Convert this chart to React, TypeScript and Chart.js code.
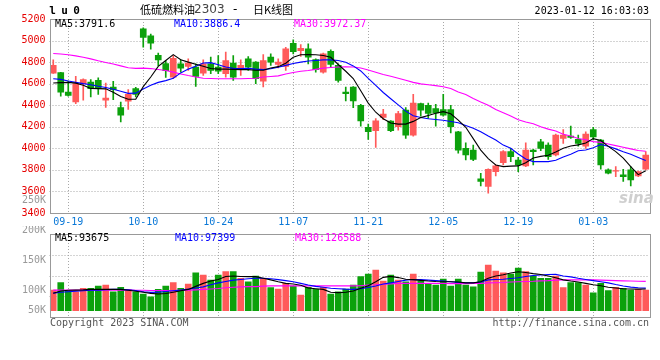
import React, { useEffect, useRef } from "react";
import { Chart, registerables } from "chart.js";
Chart.register(...registerables);

const dates = [
  "09-15","09-16","09-19","09-20","09-21","09-22","09-23","09-26","09-27","09-28","09-29","09-30",
  "10-10","10-11","10-12","10-13","10-14","10-17","10-18","10-19","10-20","10-21","10-24","10-25","10-26","10-27","10-28","10-31",
  "11-01","11-02","11-03","11-04","11-07","11-08","11-09","11-10","11-11","11-14","11-15","11-16","11-17","11-18","11-21","11-22","11-23","11-24","11-25","11-28","11-29","11-30",
  "12-01","12-02","12-05","12-06","12-07","12-08","12-09","12-12","12-13","12-14","12-15","12-16","12-19","12-20","12-21","12-22","12-23","12-26","12-27","12-28","12-29","12-30",
  "01-03","01-04","01-05","01-06","01-09","01-10","01-11","01-12"
];
const tickDates = ["09-19","10-10","10-24","11-07","11-21","12-05","12-19","01-03"];

const opens = [4698,4702,4522,4430,4600,4615,4630,4446,4569,4378,4437,4554,5108,5043,4864,4787,4661,4785,4760,4753,4698,4784,4754,4692,4790,4738,4830,4800,4624,4846,4778,4760,4975,4907,4923,4824,4707,4901,4769,4523,4569,4400,4194,4163,4286,4252,4200,4354,4123,4415,4400,4369,4360,4360,4154,3999,3984,3717,3646,3784,3867,3969,3892,3837,3984,4061,4030,3938,4092,4114,4083,4021,4175,4077,3800,3787,3753,3800,3744,3806];
const closes = [4769,4522,4492,4600,4637,4554,4556,4467,4545,4307,4501,4501,5030,4975,4821,4720,4836,4744,4791,4667,4785,4723,4717,4815,4661,4769,4754,4646,4815,4800,4800,4923,4898,4929,4846,4729,4877,4778,4630,4507,4440,4255,4154,4255,4317,4163,4323,4123,4421,4354,4323,4329,4307,4200,3984,3938,3898,3692,3806,3837,3969,3923,3846,3984,3969,4000,3923,4123,4123,4101,4046,4132,4107,3846,3769,3794,3738,3707,3784,3938];
const highs = [4822,4705,4624,4667,4645,4637,4655,4606,4621,4430,4545,4566,5117,5060,4883,4812,4861,4822,4831,4785,4822,4846,4861,4892,4861,4821,4852,4805,4870,4877,4830,4938,5006,4963,4969,4830,4883,4913,4784,4569,4572,4409,4224,4277,4363,4258,4344,4378,4501,4421,4421,4409,4501,4400,4157,4052,4030,3769,3810,3846,3978,3999,3917,4052,3990,4083,4052,4132,4175,4206,4123,4154,4194,4083,3810,3830,3806,3830,3790,3969];
const lows = [4695,4483,4483,4415,4446,4476,4501,4379,4452,4246,4360,4476,4938,4920,4766,4658,4646,4707,4723,4575,4677,4692,4692,4661,4630,4677,4723,4600,4569,4769,4747,4723,4877,4852,4784,4707,4698,4754,4615,4440,4378,4206,4083,4009,4267,4154,4169,4092,4114,4298,4277,4206,4298,4144,3954,3892,3886,3652,3584,3744,3846,3877,3784,3830,3846,3978,3898,3929,4046,4092,4021,4000,4077,3806,3763,3738,3692,3652,3738,3800];

const ma5 = [4606,4610,4612,4605,4585,4556,4554,4552,4520,4480,4455,4455,4572,4662,4760,4815,4870,4822,4800,4780,4762,4740,4735,4735,4733,4730,4730,4725,4725,4745,4758,4790,4845,4868,4870,4868,4862,4845,4778,4715,4648,4535,4420,4335,4275,4235,4225,4225,4250,4285,4305,4325,4340,4320,4262,4195,4090,3984,3905,3846,3830,3835,3837,3867,3910,3925,3935,3965,4000,4022,4032,4050,4090,4072,4018,3970,3910,3830,3756,3791.6];
const ma10 = [4646,4640,4625,4612,4600,4590,4576,4565,4548,4530,4510,4512,4550,4585,4612,4628,4650,4700,4735,4762,4792,4795,4775,4755,4742,4740,4742,4735,4730,4738,4752,4770,4787,4800,4810,4815,4821,4821,4815,4798,4765,4718,4650,4585,4518,4460,4403,4345,4303,4286,4274,4267,4261,4249,4237,4212,4187,4154,4114,4077,4030,4000,3947,3901,3877,3877,3877,3890,3920,3945,3978,3985,4005,4035,4020,3995,3968,3945,3915,3886.4];
const ma30 = [4880,4875,4868,4858,4845,4830,4812,4797,4782,4765,4748,4742,4744,4740,4732,4722,4707,4690,4675,4662,4650,4648,4646,4646,4646,4646,4648,4650,4662,4667,4672,4690,4703,4715,4722,4733,4744,4750,4755,4756,4755,4746,4727,4706,4685,4668,4650,4632,4612,4598,4590,4582,4572,4555,4523,4500,4463,4430,4400,4360,4330,4300,4265,4245,4228,4200,4178,4160,4130,4115,4092,4080,4062,4055,4040,4025,4010,3995,3980,3972.37];

const volumes = [89400,120900,86400,82000,96700,96700,106600,111000,82000,101000,92400,82000,72100,60400,92400,106600,120900,96700,115300,164000,154000,132600,154000,168400,168400,140000,125200,149800,140000,99300,93700,118300,106600,67800,101000,92400,101000,72100,82000,93700,111000,146800,158500,175700,128200,154000,132600,125200,158500,129500,118300,111000,136900,106600,136900,111000,103600,167100,197300,171400,164000,158500,184400,168400,149800,140000,140000,149800,99300,120900,120900,111000,77700,118300,86400,101000,96700,89400,92400,89400];
const vma5 = [75000,85000,88000,89000,90000,92000,92000,92000,92000,92000,88000,84000,80000,75000,72000,74000,80000,86000,92000,105000,118000,128000,135000,148000,150000,148000,147000,147000,140000,133000,125000,118000,115000,110000,98000,95000,92000,80000,78000,80000,85000,97000,108000,125000,144000,148000,143000,136000,134000,131000,128000,126000,125000,125000,124000,120000,120000,125000,140000,150000,155000,163000,168000,165000,160000,156000,150000,142000,133000,128000,124000,118000,112000,108000,101000,98000,95000,94000,93000,93675];
const vma10 = [76000,80000,82000,84000,86000,88000,89000,91000,92000,92000,90000,87000,82000,79000,80000,83000,86000,89000,93000,98000,103000,112000,120000,126000,132000,135000,138000,140000,140000,138000,134000,130000,125000,118000,111000,105000,101000,97000,95000,93000,92000,95000,100000,107000,115000,120000,126000,132000,135000,134000,132000,130000,128000,125000,122000,121000,121000,124000,133000,135000,136000,139000,142000,148000,152000,154000,156000,157000,150000,146000,140000,135000,130000,125000,120000,113000,107000,102000,99000,97399];
const vma30 = [89000,89000,89000,89000,89000,89000,89000,89000,89000,89000,89000,88000,88000,87000,87000,87000,87000,88000,88000,90000,92000,94000,96000,99000,101000,103000,104000,104000,106000,107000,107000,107000,107000,107000,107000,107000,107000,107000,107000,107000,107000,108000,111000,112000,114000,116000,118000,118000,118000,118000,118000,118000,118000,117000,117000,117000,118000,118000,120000,121000,122000,124000,125000,126000,127000,129000,130000,132000,133000,133000,133000,133000,133000,132000,131000,130000,129000,128000,127000,126588];

const volAxisLabels = ["250K", "200K", "150K", "100K", "50K"];
const priceMin = 3400;
const priceMax = 5200;
const priceStep = 200;

const UP = "#ff5a5a";
const DOWN = "#0ca10c";
const MONO = '"DejaVu Sans Mono", monospace';
const CJK = '"Noto Sans CJK SC", sans-serif';
const GRID = "#a8a8a8";

const candleColors = opens.map((o, i) => (closes[i] >= o ? UP : DOWN));

function txt(ctx: CanvasRenderingContext2D, s: string, x: number, y: number, color: string, font: string, align: CanvasTextAlign = "left") {
  ctx.fillStyle = color;
  ctx.font = font;
  ctx.textAlign = align;
  ctx.textBaseline = "middle";
  ctx.fillText(s, x, y);
}

// dotted grid drawn from the chart's own scales' ticks
const gridPlugin = {
  id: "dotGrid",
  beforeDatasetsDraw(chart: any) {
    const { ctx, chartArea: a, scales } = chart;
    ctx.save();
    ctx.strokeStyle = GRID;
    ctx.lineWidth = 1;
    ctx.setLineDash([1, 2]);
    const xs = scales.x;
    xs.ticks.forEach((_t: any, i: number) => {
      const px = Math.round(xs.getPixelForTick(i)) + 0.5;
      ctx.beginPath();
      ctx.moveTo(px, a.top);
      ctx.lineTo(px, a.bottom);
      ctx.stroke();
    });
    const ys = scales.y;
    ys.ticks.forEach((t: any) => {
      const py = Math.round(ys.getPixelForValue(t.value)) + 0.5;
      if (py < a.top + 1 || py > a.bottom - 1) return;
      ctx.beginPath();
      ctx.moveTo(a.left, py);
      ctx.lineTo(a.right, py);
      ctx.stroke();
    });
    ctx.restore();
  },
};

const framePlugin = {
  id: "frame",
  afterDraw(chart: any) {
    const { ctx, chartArea: a } = chart;
    ctx.save();
    ctx.strokeStyle = "#999";
    ctx.lineWidth = 1;
    ctx.setLineDash([]);
    ctx.strokeRect(Math.round(a.left) + 0.5, Math.round(a.top) + 0.5, Math.round(a.right - a.left), Math.round(a.bottom - a.top));
    ctx.restore();
  },
};

const last = (arr: number[]) => arr[arr.length - 1];

const priceText = {
  id: "priceText",
  afterDraw(chart: any) {
    const ctx = chart.ctx as CanvasRenderingContext2D;
    ctx.save();
    const f10 = `10px ${MONO}`;
    txt(ctx, "l", 52.5, 11, "#000", `bold 11px ${MONO}`, "center");
    txt(ctx, "u", 64.5, 11, "#000", `bold 11px ${MONO}`, "center");
    txt(ctx, "0", 76.5, 11, "#000", `bold 11px ${MONO}`, "center");
    txt(ctx, "低硫燃料油", 140, 9.5, "#000", `11px ${CJK}`);
    txt(ctx, "2303", 194, 10, "#444", `12px "DejaVu Sans", sans-serif`);
    txt(ctx, "-", 233, 10, "#000", `12px "DejaVu Sans", sans-serif`);
    txt(ctx, "日K线图", 253, 9.5, "#000", `11px ${CJK}`);
    txt(ctx, "2023-01-12 16:03:03", 649, 11.5, "#000", f10, "right");
    txt(ctx, `MA5:${last(ma5)}`, 55, 24, "#000", f10);
    txt(ctx, `MA10:${last(ma10)}`, 174, 24, "#0000ff", f10);
    txt(ctx, `MA30:${last(ma30)}`, 294, 24, "#ff00ff", f10);
    txt(ctx, volAxisLabels[0], 46, 200.5, "#999", f10, "right");
    txt(ctx, "sina", 619, 199, "#cfcfcf", `italic bold 15px "DejaVu Sans", sans-serif`);
    ctx.restore();
  },
};

const volText = {
  id: "volText",
  afterDraw(chart: any) {
    const ctx = chart.ctx as CanvasRenderingContext2D;
    ctx.save();
    const f10 = `10px ${MONO}`;
    txt(ctx, `MA5:${last(vma5)}`, 55, 12.5, "#000", f10);
    txt(ctx, `MA10:${last(vma10)}`, 175, 12.5, "#0000ff", f10);
    txt(ctx, `MA30:${last(vma30)}`, 295, 12.5, "#ff00ff", f10);
    const ys = [4.5, 34.5, 64, 84.3];
    for (let k = 1; k < volAxisLabels.length; k++) txt(ctx, volAxisLabels[k], 46, ys[k - 1], "#999", f10, "right");
    txt(ctx, "Copyright 2023 SINA.COM", 50, 97.5, "#555", f10);
    txt(ctx, "http://finance.sina.com.cn", 649, 97.5, "#555", f10, "right");
    ctx.restore();
  },
};

const lineDs = (data: number[], color: string) => ({
  type: "line" as const,
  data,
  borderColor: color,
  borderWidth: 1.1,
  pointRadius: 0,
  tension: 0,
  fill: false,
  order: 0,
});

const xScale = (showLabels: boolean, height: number) => ({
  type: "category" as const,
  offset: true,
  grid: { display: false, drawTicks: false },
  border: { display: false },
  ticks: {
    display: showLabels,
    color: "#0a78d7",
    font: { family: MONO, size: 10 },
    maxRotation: 0,
    minRotation: 0,
    autoSkip: false,
    padding: 3,
  },
  afterBuildTicks: (s: any) => {
    s.ticks = s.ticks.filter((t: any) => tickDates.includes(dates[t.value]));
  },
  afterFit: (s: any) => {
    s.height = height;
  },
});

export default function App() {
  const pRef = useRef<HTMLCanvasElement>(null);
  const vRef = useRef<HTMLCanvasElement>(null);

  useEffect(() => {
    const pc = new Chart(pRef.current as HTMLCanvasElement, {
      type: "bar",
      data: {
        labels: dates,
        datasets: [
          lineDs(ma5, "#000000"),
          lineDs(ma10, "#0000ff"),
          lineDs(ma30, "#ff00ff"),
          {
            type: "bar",
            data: opens.map((o, i) => [o, closes[i]]),
            backgroundColor: candleColors,
            barThickness: 6,
            grouped: false,
            borderWidth: 0,
            order: 1,
          },
          {
            type: "bar",
            data: lows.map((l, i) => [l, highs[i]]),
            backgroundColor: candleColors,
            barThickness: 1,
            grouped: false,
            borderWidth: 0,
            order: 2,
          },
        ] as any,
      },
      options: {
        animation: false,
        responsive: false,
        events: [],
        layout: { padding: { left: 0, right: 10.5, top: 19, bottom: 0 } },
        plugins: { legend: { display: false }, tooltip: { enabled: false }, title: { display: false } },
        scales: {
          x: xScale(true, 15) as any,
          y: {
            min: priceMin,
            max: priceMax,
            ticks: {
              stepSize: priceStep,
              color: "#e60000",
              font: { family: MONO, size: 10 },
              padding: 4,
              callback: (v: any) => String(v),
            },
            grid: { display: false, drawTicks: false },
            border: { display: false },
            afterFit: (s: any) => {
              s.width = 49.5;
            },
          } as any,
        },
      },
      plugins: [gridPlugin, framePlugin, priceText],
    });

    const vMin = -27200;
    const vMax = 331200;
    const vc = new Chart(vRef.current as HTMLCanvasElement, {
      type: "bar",
      data: {
        labels: dates,
        datasets: [
          lineDs(vma5, "#000000"),
          lineDs(vma10, "#0000ff"),
          lineDs(vma30, "#ff00ff"),
          {
            type: "bar",
            data: volumes,
            backgroundColor: candleColors,
            barThickness: 6,
            grouped: false,
            borderWidth: 0,
            order: 1,
          },
        ] as any,
      },
      options: {
        animation: false,
        responsive: false,
        events: [],
        layout: { padding: { left: 0, right: 10.5, top: 8, bottom: 0 } },
        plugins: { legend: { display: false }, tooltip: { enabled: false }, title: { display: false } },
        scales: {
          x: xScale(false, 43) as any,
          y: {
            min: vMin,
            max: vMax,
            ticks: { display: false },
            grid: { display: false, drawTicks: false },
            border: { display: false },
            afterBuildTicks: (s: any) => {
              const r = s.max - s.min;
              s.ticks = [0, 1, 2, 3, 4].map((k) => ({ value: s.min + (k * r) / 4 }));
            },
            afterFit: (s: any) => {
              s.width = 49.5;
            },
          } as any,
        },
      },
      plugins: [gridPlugin, framePlugin, volText],
    });

    return () => {
      pc.destroy();
      vc.destroy();
    };
  }, []);

  return (
    <div style={{ position: "absolute", left: 0, top: 0, width: 660, height: 360, background: "#fff" }}>
      <canvas ref={pRef} width={660} height={228} style={{ position: "absolute", left: 0, top: 0, width: 660, height: 228 }} />
      <canvas ref={vRef} width={660} height={134} style={{ position: "absolute", left: 0, top: 226, width: 660, height: 134 }} />
    </div>
  );
}
